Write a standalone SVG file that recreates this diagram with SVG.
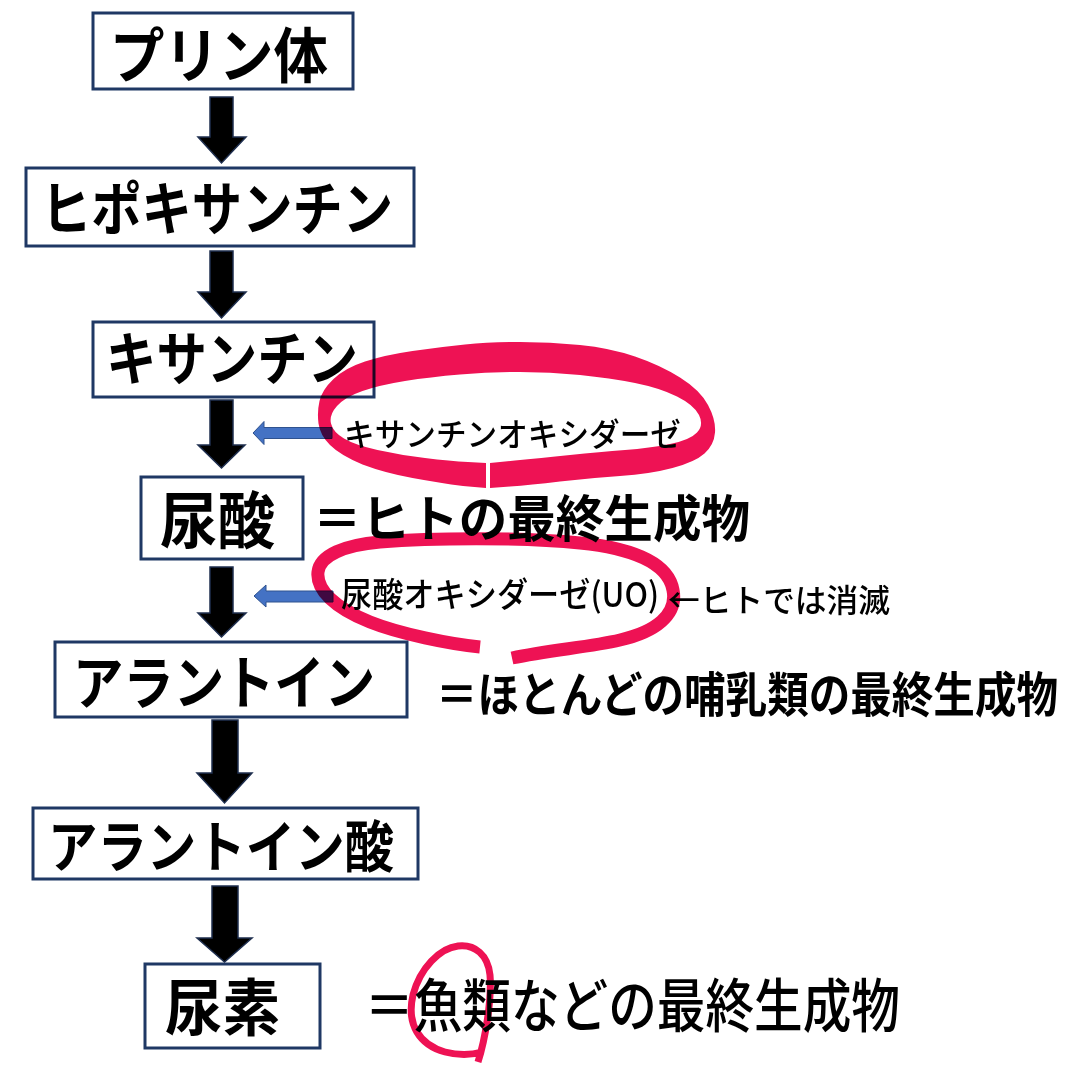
<svg xmlns="http://www.w3.org/2000/svg" width="1080" height="1080" viewBox="0 0 1080 1080">
<style>
.box{fill:#fff;stroke:#1F3864;stroke-width:3}
.t{font-family:"Noto Sans CJK JP","Noto Sans",sans-serif;font-weight:700;fill:#000}
.s{font-family:"Noto Sans CJK JP","Noto Sans",sans-serif;font-weight:500;fill:#000}
.arr{fill:#000;stroke:#1F2F4F;stroke-width:1.5;stroke-linejoin:miter}
.blue{fill:#4472C4;stroke:#2F528F;stroke-width:1}
.red{fill:#EE1254;stroke:none}
.redl{fill:none;stroke:#EE1254;stroke-linecap:butt;stroke-linejoin:round}
</style>
<rect x="0" y="0" width="1080" height="1080" fill="#fff"/>

<g id="node-purine">
<rect class="box" x="93" y="13" width="260" height="76"/>
<text class="t" x="110" y="78" font-size="60" textLength="218" lengthAdjust="spacingAndGlyphs">プリン体</text>
</g>
<g id="node-hypoxanthine">
<rect class="box" x="26" y="168" width="388" height="78"/>
<text class="t" x="41" y="230" font-size="58" textLength="352" lengthAdjust="spacingAndGlyphs">ヒポキサンチン</text>
</g>
<g id="node-xanthine">
<rect class="box" x="93" y="322" width="281" height="75"/>
<text class="t" x="106" y="380" font-size="58" textLength="252" lengthAdjust="spacingAndGlyphs">キサンチン</text>
</g>
<g id="node-uric-acid">
<rect class="box" x="141" y="477" width="162" height="82"/>
<text class="t" x="160" y="544" font-size="62" textLength="115" lengthAdjust="spacingAndGlyphs">尿酸</text>
</g>
<g id="node-allantoin">
<rect class="box" x="55" y="642" width="352" height="75"/>
<text class="t" x="73" y="704" font-size="58" textLength="302" lengthAdjust="spacingAndGlyphs">アラントイン</text>
</g>
<g id="node-allantoic-acid">
<rect class="box" x="33" y="808" width="385" height="71"/>
<text class="t" x="48" y="867" font-size="56" textLength="346" lengthAdjust="spacingAndGlyphs">アラントイン酸</text>
</g>
<g id="node-urea">
<rect class="box" x="145" y="964" width="175" height="84"/>
<text class="t" x="165" y="1031" font-size="62" textLength="115" lengthAdjust="spacingAndGlyphs">尿素</text>
</g>

<g id="connectors">
<polygon class="arr" points="210,97 233,97 233,137 246,137 221.5,163 198,137 210,137"/>
<polygon class="arr" points="210,251 233,251 233,292 246,292 221.5,318 198,292 210,292"/>
<polygon class="arr" points="210,400 233,400 233,445 245,445 221.5,468 198,445 210,445"/>
<polygon class="arr" points="210,567 233,567 233,613 246,613 221.5,637 198,613 210,613"/>
<polygon class="arr" points="212,720 238,720 238,773 252,773 224.5,803 197,773 212,773"/>
<polygon class="arr" points="212,886 238,886 238,938 252,938 224.5,962 197,938 212,938"/>
<polygon class="blue" points="253,433 264,421.5 264,427.5 332,427.5 332,438.5 264,438.5 264,444.5"/>
<polygon class="blue" points="254,596 266,585 266,591 333,591 333,602 266,602 266,607"/>
</g>

<g id="labels">
<text class="t" x="313" y="537" font-size="50" textLength="437" lengthAdjust="spacingAndGlyphs">＝ヒトの最終生成物</text>
<text class="t" transform="translate(436,712) scale(1,1.14)" x="0" y="0" font-size="42" textLength="622" lengthAdjust="spacingAndGlyphs">＝ほとんどの哺乳類の最終生成物</text>
<text class="s" x="365" y="1027" font-size="58" textLength="535" lengthAdjust="spacingAndGlyphs">＝魚類などの最終生成物</text>
<text class="s" x="344" y="446" font-size="32" textLength="337" lengthAdjust="spacingAndGlyphs">キサンチンオキシダーゼ</text>
<text class="s" x="341" y="607" font-size="34" textLength="318" lengthAdjust="spacingAndGlyphs">尿酸オキシダーゼ(UO)</text>
<text class="s" x="668" y="612" font-size="32" textLength="222" lengthAdjust="spacingAndGlyphs">←ヒトでは消滅</text>
</g>

<g id="highlights" style="mix-blend-mode:multiply">
<path class="red" d="M486,488 L463,486 Q440,483 412.5,478 Q385,473 362.5,464.5 Q340,455 330,445 Q320,435 318.5,423.5 Q317,412 319.5,401 Q322,390 333.5,379 Q345,368 365,361.5 Q385,355 412.5,351 Q440,347 465,344.5 Q490,342 520,342 Q550,342 580,345 Q610,348 635,356.5 Q660,365 680,377.5 Q700,390 708,405 Q716,420 715,432.5 Q714,445 704.5,453.5 Q695,462 672.5,468 Q650,474 620,476 Q590,478 560,481.5 Q530,485 510,486.5 L490,488 L490,463 L515,460.5 Q540,458 570,455 Q600,452 625,450 Q650,448 670,444 Q690,440 697,432.5 Q704,425 699,415 Q694,405 677,396.5 Q660,388 635,383 Q610,378 580,375 Q550,372 520,372 Q490,372 460,374.5 Q430,377 405,381 Q380,385 362.5,391 Q345,397 337,406 Q329,415 331,423.5 Q333,432 344,438.5 Q355,445 377.5,450 Q400,455 425,458 Q450,461 468,462 L486,463 Z"/>
<path class="redl" stroke-width="13" d="M480,647 C450,644 400,634 370,622 C335,608 316,590 318,572 C320,555 345,545 380,542 C430,538 520,537 580,543 C630,548 668,562 673,590 C678,615 655,632 620,640 C590,647 550,650 512,658"/>
<path class="redl" stroke-width="7" d="M478,1062 C485,1040 492,1000 490,975 C488,955 475,944 458,946 C440,948 420,968 413,995 C406,1025 420,1045 445,1052 C460,1056 472,1055 482,1052"/>
</g>
</svg>
